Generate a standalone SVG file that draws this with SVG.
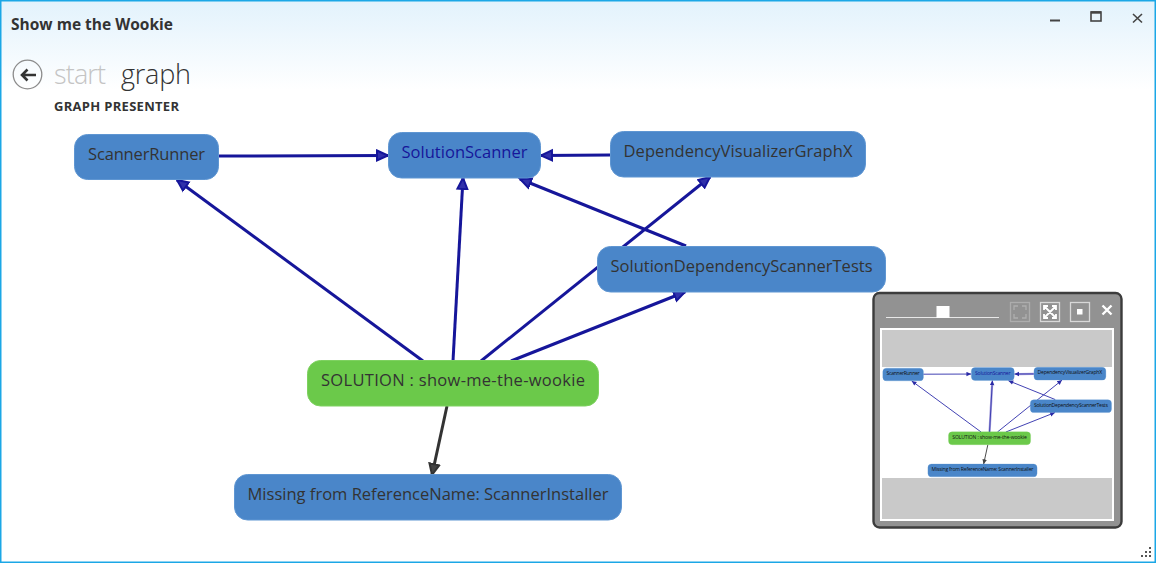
<svg xmlns="http://www.w3.org/2000/svg" width="1156" height="563" viewBox="0 0 1156 563">
<style>
text{font-family:"Open Sans","Noto Sans","Liberation Sans",sans-serif;fill:#333}
.n rect{fill:#4a86c9;stroke:#5f96d2;stroke-width:1}
.n.g rect{fill:#6bc94a;stroke:#7ed160}
.n text{font-size:16.5px;text-anchor:middle}
.c line{stroke:#16169a;stroke-width:3;fill:none;marker-end:url(#a)}
.c line.d{stroke:#333;marker-end:url(#b)}
.m .c line{stroke:#3a3ab0;stroke-width:3.4;marker-end:url(#a2)}
.m .c line.d{stroke:#444;marker-end:url(#b2)}
.m .c line.h{stroke:#a8a2dc;stroke-width:8;marker-end:none}
.m .n text{fill:#111;font-size:18px}
.b{fill:none;stroke:#d8d8d8;stroke-width:1.3}
</style>
<defs>
<linearGradient id="bg" x1="0" y1="0" x2="0" y2="1"><stop offset="0" stop-color="#e2f2fc"/><stop offset="1" stop-color="#fff"/></linearGradient>
<marker id="a" markerUnits="userSpaceOnUse" markerWidth="15" markerHeight="14" refX="12" refY="7" orient="auto" viewBox="0 0 15 14"><path d="M1,2L12,7L1,12Z" fill="#3030aa" stroke="#16169a" stroke-width="2"/></marker>
<marker id="b" markerUnits="userSpaceOnUse" markerWidth="15" markerHeight="14" refX="12" refY="7" orient="auto" viewBox="0 0 15 14"><path d="M1,2L12,7L1,12Z" fill="#444" stroke="#333" stroke-width="2"/></marker>
<marker id="a2" markerUnits="userSpaceOnUse" markerWidth="20" markerHeight="18" refX="18" refY="9" orient="auto" viewBox="0 0 20 18"><path d="M1,1L18,9L1,17Z" fill="#2a2aa6"/></marker>
<marker id="b2" markerUnits="userSpaceOnUse" markerWidth="20" markerHeight="18" refX="18" refY="9" orient="auto" viewBox="0 0 20 18"><path d="M1,1L18,9L1,17Z" fill="#444"/></marker>
</defs>
<rect width="1156" height="563" fill="#fff"/>
<rect x="0" y="0" width="1156" height="90" fill="url(#bg)"/>
<rect x="0.75" y="0.75" width="1154.5" height="561.5" fill="none" stroke="#1ba7e6" stroke-width="1.5"/>
<text x="11" y="30" font-size="15.5" font-weight="700" textLength="162">Show me the Wookie</text>
<g><rect x="1050" y="19.500" width="10" height="2" fill="#444"/><rect x="1091" y="12" width="10" height="9" fill="none" stroke="#444" stroke-width="1.600"/><path d="M1091,12.500H1101" stroke="#444" stroke-width="2.400"/><path d="M1133,14L1142,22.500M1142,14L1133,22.500" stroke="#444" stroke-width="1.600"/></g>
<circle cx="27.500" cy="74.500" r="14.300" fill="none" stroke="#8c8c8c" stroke-width="1.300"/>
<path d="M36,75H23M27.500,69.500L22,75L27.500,80.500" fill="none" stroke="#333" stroke-width="2.600"/>
<text x="54" y="84" font-size="27" font-weight="300" style="fill:#c4c4c4" textLength="52">start</text>
<text x="121" y="84" font-size="27" font-weight="300" textLength="70">graph</text>
<text x="54" y="111" font-size="13" font-weight="700" textLength="125">GRAPH PRESENTER</text>
<g id="connectors" class="c">
<line x1="218" y1="156" x2="388" y2="155.500"/>
<line x1="610" y1="155" x2="541" y2="155.500"/>
<line x1="423" y1="361" x2="177" y2="180"/>
<line x1="453" y1="361" x2="463" y2="178"/>
<line x1="481" y1="361" x2="710" y2="177"/>
<line x1="511" y1="361" x2="685" y2="292"/>
<line x1="686" y1="246" x2="520" y2="179"/>
<line class="d" x1="447" y1="406" x2="432" y2="475"/>
</g>
<g id="ScannerRunner" class="n"><rect x="74.500" y="134.500" width="144" height="45" rx="13"/><text x="146.500" y="160" textLength="117">ScannerRunner</text></g>
<g id="SolutionScanner" class="n"><rect x="388.500" y="132.500" width="152" height="45.500" rx="13"/><text x="464.500" y="158" textLength="126" style="fill:#16169a">SolutionScanner</text></g>
<g id="DependencyVisualizerGraphX" class="n"><rect x="610.500" y="131.500" width="255" height="45.500" rx="13"/><text x="738" y="157" textLength="229">DependencyVisualizerGraphX</text></g>
<g id="SolutionDependencyScannerTests" class="n"><rect x="597.500" y="246.500" width="288" height="45.500" rx="13"/><text x="741.500" y="272" textLength="262">SolutionDependencyScannerTests</text></g>
<g id="Solution" class="n g"><rect x="307.500" y="360.500" width="291" height="45.500" rx="13"/><text x="453" y="386" textLength="264">SOLUTION : show-me-the-wookie</text></g>
<g id="Missing" class="n"><rect x="234.500" y="474.500" width="387" height="45.500" rx="13"/><text x="428" y="500" textLength="361">Missing from ReferenceName: ScannerInstaller</text></g>
<g id="minimap">
<rect x="873.500" y="293" width="248" height="234.500" rx="6" fill="#929292" stroke="#3c3c3c" stroke-width="2.400"/>
<rect x="880" y="328" width="234" height="193" fill="#fff"/>
<rect x="882" y="330" width="230" height="37" fill="#c9c9c9"/>
<rect x="882" y="478" width="230" height="41" fill="#c9c9c9"/>
<path d="M886,317.500H999" stroke="#e8e8e8" stroke-width="1"/>
<rect x="936.500" y="306" width="13" height="12" fill="#fff"/>
<rect x="1010.500" y="302.500" width="19" height="19" class="b" opacity=".4"/>
<path d="M1014,310V306H1018M1022,306H1026V310M1026,314V318H1022M1018,318H1014V314" fill="none" stroke="#bbb" stroke-width="1.300" opacity=".7"/>
<rect x="1040.500" y="302.500" width="19" height="19" class="b"/>
<path d="M1044,306L1056,318M1056,306L1044,318M1044,310V306H1048M1052,306H1056V310M1056,314V318H1052M1048,318H1044V314" fill="none" stroke="#fff" stroke-width="1.800"/>
<rect x="1070.500" y="302.500" width="19" height="19" class="b"/>
<rect x="1077" y="309" width="5.500" height="5.500" fill="#fff"/>
<path d="M1102.500,305.500L1111.500,314.500M1111.500,305.500L1102.500,314.500" stroke="#fff" stroke-width="2.400"/>
<g class="m" transform="translate(861.800 330.200) scale(.282)">
<g class="c">
<line class="h" x1="610" y1="155" x2="555" y2="155.500"/>
<line class="h" x1="453" y1="361" x2="462" y2="195"/>
<line x1="218" y1="156" x2="388" y2="155.500"/>
<line x1="610" y1="155" x2="541" y2="155.500"/>
<line x1="423" y1="361" x2="177" y2="180"/>
<line x1="453" y1="361" x2="463" y2="178"/>
<line x1="481" y1="361" x2="710" y2="177"/>
<line x1="511" y1="361" x2="685" y2="292"/>
<line x1="686" y1="246" x2="520" y2="179"/>
<line class="d" x1="447" y1="406" x2="432" y2="475"/>
</g>
<g class="n"><rect x="74.500" y="134.500" width="144" height="45" rx="13"/><text x="146.500" y="160" textLength="117">ScannerRunner</text></g>
<g class="n"><rect x="388.500" y="132.500" width="152" height="45.500" rx="13"/><text x="464.500" y="158" textLength="126" style="fill:#16169a">SolutionScanner</text></g>
<g class="n"><rect x="610.500" y="131.500" width="255" height="45.500" rx="13"/><text x="738" y="157" textLength="229">DependencyVisualizerGraphX</text></g>
<g class="n"><rect x="597.500" y="246.500" width="288" height="45.500" rx="13"/><text x="741.500" y="272" textLength="262">SolutionDependencyScannerTests</text></g>
<g class="n g"><rect x="307.500" y="360.500" width="291" height="45.500" rx="13"/><text x="453" y="386" textLength="264">SOLUTION : show-me-the-wookie</text></g>
<g class="n"><rect x="234.500" y="474.500" width="387" height="45.500" rx="13"/><text x="428" y="500" textLength="361">Missing from ReferenceName: ScannerInstaller</text></g>
</g>
</g>
<g fill="#555"><rect x="1149" y="547" width="2" height="2"/><rect x="1145" y="551" width="2" height="2"/><rect x="1149" y="551" width="2" height="2"/><rect x="1141" y="555" width="2" height="2"/><rect x="1145" y="555" width="2" height="2"/><rect x="1149" y="555" width="2" height="2"/></g>
</svg>
